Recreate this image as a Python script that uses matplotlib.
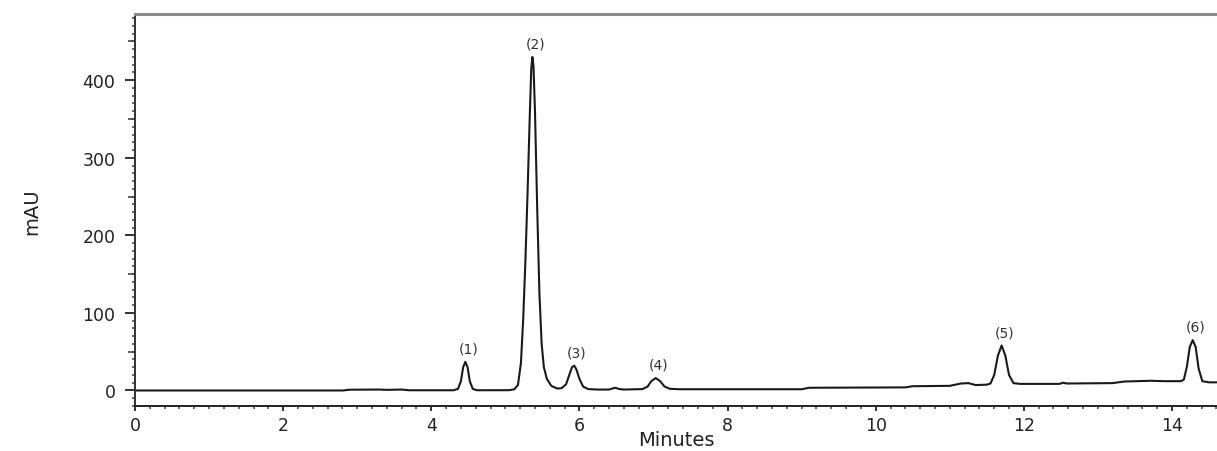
import matplotlib
matplotlib.use("Agg")
import matplotlib.pyplot as plt
from matplotlib.ticker import MultipleLocator

# Chromatogram trace (minutes, mAU)
times = [0.00, 2.80, 2.90, 3.30, 3.40, 3.60, 3.70, 4.30, 4.36, 4.40, 4.43, 4.46, 4.49, 4.52, 4.56, 4.62,
         5.05, 5.12, 5.17, 5.21, 5.24, 5.27, 5.30, 5.33, 5.35, 5.365, 5.38, 5.40, 5.43, 5.46, 5.49,
         5.52, 5.56, 5.62, 5.70, 5.76, 5.82, 5.87, 5.90, 5.93, 5.96, 6.00, 6.05, 6.12, 6.25,
         6.40, 6.46, 6.49, 6.53, 6.60, 6.85, 6.92, 6.97, 7.03, 7.09, 7.15, 7.22, 7.35,
         9.00, 9.10, 10.40, 10.50, 11.00, 11.15, 11.25, 11.35, 11.50,
         11.55, 11.60, 11.65, 11.70, 11.75, 11.80, 11.86, 11.95,
         12.48, 12.53, 12.58, 13.20, 13.35, 13.70, 13.90, 14.12,
         14.16, 14.20, 14.24, 14.28, 14.32, 14.36, 14.41, 14.50, 14.62]
mau = [0.0, 0.0, 1.0, 1.2, 0.8, 1.2, 0.3, 0.3, 2.0, 12.0, 30.0, 37.0, 30.0, 12.0, 2.0, 0.3,
       0.4, 1.5, 7.0, 35.0, 90.0, 165.0, 255.0, 355.0, 415.0, 430.0, 418.0, 360.0, 235.0, 125.0, 60.0,
       30.0, 15.0, 6.0, 2.5, 3.0, 8.0, 22.0, 30.0, 32.0, 27.0, 15.0, 5.0, 1.8, 1.2,
       1.2, 3.0, 3.5, 2.0, 1.2, 1.8, 5.0, 12.0, 16.0, 12.0, 5.0, 2.2, 1.6,
       1.6, 3.5, 4.0, 5.5, 6.0, 9.0, 9.5, 7.0, 7.5,
       9.0, 20.0, 45.0, 58.0, 45.0, 20.0, 9.5, 8.5,
       8.5, 10.0, 9.0, 9.5, 11.5, 12.5, 12.0, 12.0,
       14.0, 30.0, 56.0, 65.0, 56.0, 28.0, 12.0, 10.5, 10.5]

# Peak labels
peak_labels = ["(1)", "(2)", "(3)", "(4)", "(5)", "(6)"]
peak_times = [4.46, 5.365, 5.93, 7.03, 11.70, 14.28]
peak_heights = [37, 430, 32, 16, 58, 65]

x_ticks = [0, 2, 4, 6, 8, 10, 12, 14]
y_ticks = [0, 100, 200, 300, 400]

W, H = 1217, 452
fig = plt.figure(figsize=(W / 100, H / 100), dpi=100)
left, right_px, top_px, bottom_px = 135, 1217, 14.5, 407
ax = fig.add_axes([left / W, (H - bottom_px) / H, (right_px - left) / W, (bottom_px - top_px) / H])

ax.plot(times, mau, color="#1a1a1a", lw=1.5, solid_joinstyle="round")

for lab, t, h in zip(peak_labels, peak_times, peak_heights):
    ax.annotate(lab, (t, h), xytext=(2, 9.5), textcoords="offset points",
                ha="center", va="center", fontsize=10, color="#333333",
                family="DejaVu Sans")

ax.set_xlim(0, (right_px - left) / 74.07)
ax.set_ylim(-20, 486)

ax.set_xticks(x_ticks)
ax.set_yticks(y_ticks)
ax.xaxis.set_minor_locator(MultipleLocator(0.2))
ax.yaxis.set_minor_locator(MultipleLocator(10))

ax.tick_params(axis="y", which="major", direction="out", length=7, width=1.3,
               pad=7, labelsize=12.5, colors="#222222")
ax.tick_params(axis="y", which="minor", direction="out", length=2.5, width=1.1, color="#444444")
ax.tick_params(axis="x", which="major", direction="out", length=3.5, width=1.3,
               pad=4, labelsize=12.5, colors="#222222")
ax.tick_params(axis="x", which="minor", direction="out", length=2, width=1.1, color="#444444")

# medium ticks at the 50s on the y axis
sec = ax.secondary_yaxis("left")
sec.set_yticks([50, 150, 250, 350, 450])
sec.tick_params(axis="y", length=5, width=1.1, labelleft=False, color="#333333")
sec.yaxis.set_minor_locator(plt.NullLocator())
for s in sec.spines.values():
    s.set_visible(False)

for lab in ax.get_xticklabels() + ax.get_yticklabels():
    lab.set_family("DejaVu Sans")

ax.spines["right"].set_visible(False)
ax.spines["top"].set_color("#8c8c8c")
ax.spines["top"].set_linewidth(2.2)
ax.spines["left"].set_color("#333333")
ax.spines["left"].set_linewidth(1.4)
ax.spines["bottom"].set_color("#222222")
ax.spines["bottom"].set_linewidth(1.4)

fig.text(676 / W, 1 - 441 / H, "Minutes", ha="center", va="center",
         fontsize=14, color="#222222", family="DejaVu Sans")
fig.text(32 / W, 1 - 212 / H, "mAU", ha="center", va="center", rotation=90,
         fontsize=14, color="#222222", family="DejaVu Sans")

fig.savefig("out.png", dpi=100)
